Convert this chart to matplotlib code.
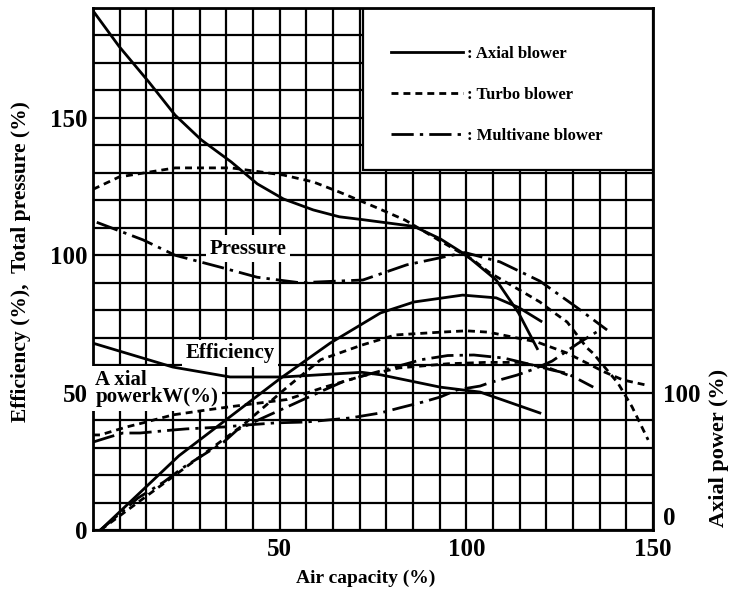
import matplotlib
matplotlib.use("Agg")
import matplotlib.pyplot as plt
import numpy as np
from matplotlib.patches import Rectangle
from matplotlib.lines import Line2D

SERIF = "Liberation Serif"

# ---------------- data (air capacity %, left-axis %) ----------------
press_axial_x = [0, 7, 15, 22, 29, 37, 44, 51, 59, 66, 72, 86, 93, 100, 108, 114, 119]
press_axial_y = [189, 176, 163, 151, 142, 134, 126, 120.5, 116.5, 114, 113, 110.5, 106, 100, 91, 79, 66]

press_turbo_x = [0, 7, 22, 37, 51, 59, 66, 75.5, 83.6, 92, 101.8, 106.3, 115.2, 119.7,
                 123.2, 127, 132.3, 133.9, 140.6, 144.4, 148.7]
press_turbo_y = [124, 128.5, 131.8, 131.8, 129.2, 126.7, 123, 117.6, 112.8, 106, 98.3, 93.6,
                 86.6, 83, 79.4, 75.7, 66.3, 64.4, 53.5, 44.8, 32.8]

press_multi_x = [1, 13.4, 22, 34, 44, 55.4, 72.3, 84, 99.6, 109, 119.7, 123, 129.6, 137.7]
press_multi_y = [112, 105.6, 100, 95.7, 92, 90, 91, 96.5, 101, 97.6, 90.6, 87.4, 81, 72.8]

eff_axial_x = [2, 23, 50, 63.5, 77, 86, 99, 108, 114, 120]
eff_axial_y = [0, 27, 55, 68, 79, 83, 85.5, 84.5, 81, 76]

eff_turbo_x = [2, 20, 40, 52, 61, 72, 81, 93, 100, 106, 119, 127, 137, 142, 148]
eff_turbo_y = [0, 18, 38, 52, 62, 67.3, 71, 72, 72.5, 72, 68.4, 64.4, 57.5, 54.6, 52.8]

eff_multi_x = [2, 12, 19, 24, 29.5, 35, 38.6, 45, 52, 62, 67, 72, 80, 88, 95, 102, 110, 118, 123, 127, 134]
eff_multi_y = [0, 11.6, 17.5, 22.6, 27.3, 32, 36.4, 40.5, 44.8, 51, 54, 56, 59, 62, 63.5, 63.7, 62.6, 60, 58.2, 57, 52]

pow_axial_x = [0, 21.4, 36.7, 50.9, 72, 77, 93, 103.7, 119.7]
pow_axial_y = [68, 59.3, 55.7, 55.7, 57.4, 56.5, 52, 50.2, 42.6]

pow_turbo_x = [0, 1.9, 9, 13.4, 21.4, 30.5, 37.5, 52, 62, 72, 82, 95, 105, 114, 122, 128]
pow_turbo_y = [34.6, 34.6, 37.5, 39, 41.9, 43.7, 45, 47.5, 52, 56, 59, 60.5, 61, 61, 59, 56]

pow_multi_x = [0, 4.5, 8, 12.6, 21.4, 25, 35, 41, 49, 57, 69, 77, 82, 88.4, 93, 97.5, 103.7, 106, 113.6, 118, 123, 130, 136]
pow_multi_y = [32, 33.9, 35.3, 35.3, 36.4, 36.8, 37.5, 38.2, 39, 39.3, 40.8, 42.6, 44.4, 46.6, 48.4, 51, 52.4, 53.5, 56.4, 58.5, 61.5, 68, 73]

x_ticks = [50, 100, 150]
y_ticks = [0, 50, 100, 150]
y2_ticks = [0, 100]
legend_labels = [": Axial blower", ": Turbo blower", ": Multivane blower"]

# ---------------- figure ----------------
fig = plt.figure(figsize=(7.31, 5.94), dpi=100)
ax = fig.add_axes([93 / 731, 64 / 594, 560 / 731, 522 / 594])
ax.set_xlim(0, 150)
ax.set_ylim(0, 190)
ax.set_axisbelow(True)

ax.set_xticks(np.linspace(0, 150, 22), minor=True)
ax.set_yticks(np.arange(0, 191, 10), minor=True)
ax.set_xticks(x_ticks)
ax.set_yticks(y_ticks)
ax.grid(True, which="both", color="black", lw=1.6)
ax.tick_params(which="both", length=0)
ax.tick_params(axis="x", pad=6)
ax.tick_params(axis="y", pad=4)
for lab in ax.get_xticklabels() + ax.get_yticklabels():
    lab.set_fontfamily(SERIF)
    lab.set_fontsize(18)
    lab.set_fontweight("bold")
for s in ax.spines.values():
    s.set_linewidth(2)
    s.set_color("black")

solid = dict(color="black", lw=2.0, ls="-", zorder=4)
turbo = dict(color="black", lw=2.0, ls=(0, (2.5, 1.8)), zorder=4)
multi = dict(color="black", lw=2.0, ls=(0, (8, 2.2, 1.2, 2.2)), zorder=4)

ax.plot(press_axial_x, press_axial_y, **solid)
ax.plot(press_turbo_x, press_turbo_y, **turbo)
ax.plot(press_multi_x, press_multi_y, **multi)
ax.plot(eff_axial_x, eff_axial_y, **solid)
ax.plot(eff_turbo_x, eff_turbo_y, **turbo)
ax.plot(eff_multi_x, eff_multi_y, **multi)
ax.plot(pow_axial_x, pow_axial_y, **solid)
ax.plot(pow_turbo_x, pow_turbo_y, **turbo)
ax.plot(pow_multi_x, pow_multi_y, **multi)

# in-plot labels with white backing
lbl = dict(fontfamily=SERIF, fontsize=15, fontweight="bold", zorder=3,
           bbox=dict(fc="white", ec="none", pad=2.5))
ax.text(41.5, 102.3, "Pressure", ha="center", va="center", **lbl)
ax.text(36.7, 64.4, "Efficiency", ha="center", va="center", **lbl)
ax.text(0.6, 51.5, "A xial\npowerkW(%)", ha="left", va="center",
        multialignment="left", linespacing=0.85, **lbl)

# legend box
ax.add_patch(Rectangle((0.482, 0.69), 0.518, 0.31, transform=ax.transAxes,
                       facecolor="white", edgecolor="black", lw=1.6, zorder=2.5))
handles = [Line2D([], [], color="black", lw=2.0, ls="-"),
           Line2D([], [], color="black", lw=2.0, ls=(0, (2.5, 1.8))),
           Line2D([], [], color="black", lw=2.0, ls=(0, (8, 2.2, 1.2, 2.2)))]
leg = ax.legend(handles, legend_labels, loc="upper left", bbox_to_anchor=(0.532, 0.928),
                frameon=False, borderpad=0, borderaxespad=0, handlelength=4.3,
                handletextpad=0.25, labelspacing=1.5,
                prop=dict(family=SERIF, weight="bold", size=12))
leg.set_zorder(6)

# right axis
ax2 = ax.twinx()
ax2.set_ylim(0, 380)
ax2.set_yticks(y2_ticks)
ax2.tick_params(length=0, pad=7)
for lab in ax2.get_yticklabels():
    lab.set_fontfamily(SERIF)
    lab.set_fontsize(18)
    lab.set_fontweight("bold")
ax2.get_yticklabels()[0].set_verticalalignment("bottom")
for s in ax2.spines.values():
    s.set_visible(False)

# axis titles
fig.text(366 / 731, 1 - 578 / 594, "Air capacity (%)", ha="center", va="center",
         fontfamily=SERIF, fontsize=14, fontweight="bold")
fig.text(21 / 731, 1 - 262 / 594, "Efficiency (%),  Total pressure (%)", ha="center",
         va="center", rotation=90, fontfamily=SERIF, fontsize=15.5, fontweight="bold")
fig.text(719 / 731, 1 - 448 / 594, "Axial power (%)", ha="center", va="center",
         rotation=90, fontfamily=SERIF, fontsize=16, fontweight="bold")

fig.savefig("out.png", dpi=100, facecolor="white")
